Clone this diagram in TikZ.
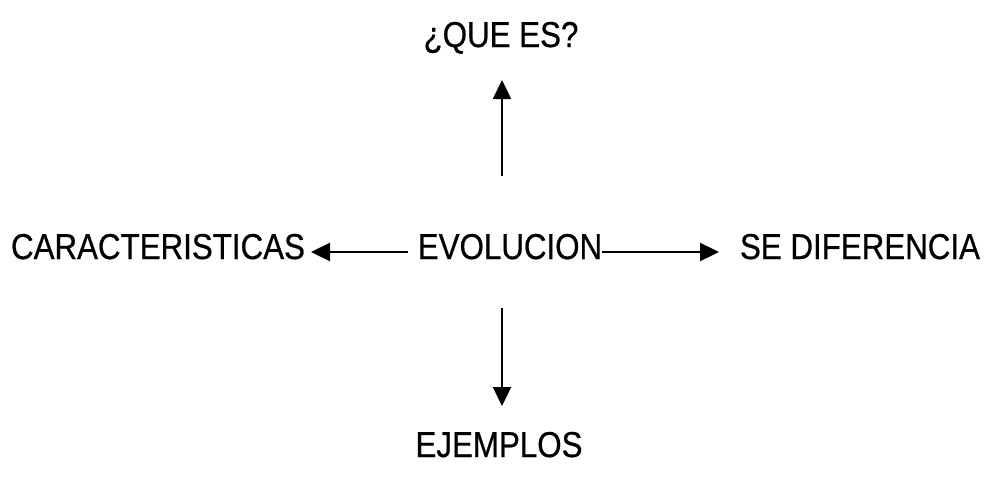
\documentclass[tikz,border=0pt]{standalone}
\usepackage{fontspec}
\setmainfont{Liberation Sans}
\newfontfamily\lblfont{Liberation Sans}[FakeBold=0.6]
\usetikzlibrary{arrows.meta}
\begin{document}
\begin{tikzpicture}[x=1pt,y=-1pt,
  lbl/.style={inner sep=0pt, anchor=base, font=\lblfont\fontsize{31.3}{36}\selectfont},
  arr/.style={line width=2.3pt, -{Triangle[length=19pt,width=18pt]}}]
\useasboundingbox[fill=white] (0,0) rectangle (990,479);
\node[lbl] (que) at (501,47) {\scalebox{1}[1.15]{¿QUE ES?}};
\node[lbl] (evo) at (510,259) {\scalebox{1}[1.15]{EVOLUCION}};
\node[lbl] (car) at (158,259) {\scalebox{1}[1.15]{CARACTERISTICAS}};
\node[lbl] (dif) at (860,259) {\scalebox{1}[1.15]{SE DIFERENCIA}};
\node[lbl] (eje) at (499,457) {\scalebox{1}[1.15]{EJEMPLOS}};
\coordinate (upS) at (502,176);
\coordinate (upE) at (502,80);
\coordinate (dnS) at (502,308);
\coordinate (dnE) at (502,406);
\coordinate (lfS) at (408,252);
\coordinate (lfE) at (311,252);
\coordinate (rtS) at (602,252);
\coordinate (rtE) at (719,252);
\draw[arr] (upS) -- (upE);
\draw[arr] (dnS) -- (dnE);
\draw[arr] (lfS) -- (lfE);
\draw[arr] (rtS) -- (rtE);
\end{tikzpicture}
\end{document}
